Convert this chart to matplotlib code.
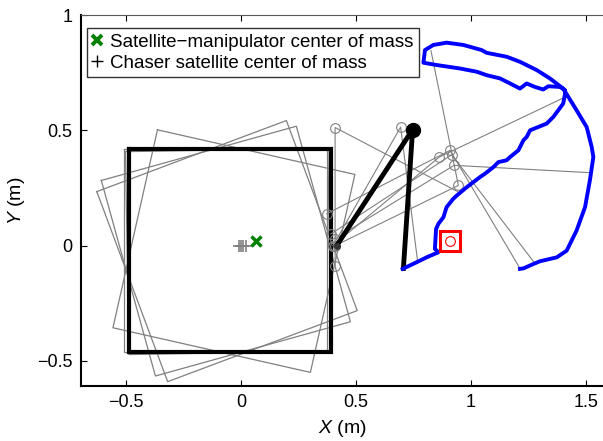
import numpy as np
import matplotlib
matplotlib.use('Agg')
import matplotlib.pyplot as plt
from matplotlib.lines import Line2D

plt.rcParams['font.family'] = ['Liberation Sans', 'DejaVu Sans']
plt.rcParams['mathtext.fontset'] = 'custom'
plt.rcParams['mathtext.it'] = 'Liberation Sans:italic'
plt.rcParams['mathtext.rm'] = 'Liberation Sans'

# satellite body snapshots: centre, rotation (deg), side length
sq_cx = [-0.068, -0.055, -0.061, -0.031, -0.066]
sq_cy = [-0.021, -0.025, -0.024, -0.024, -0.024]
sq_ang = [0.0, 1.0, 20.5, -12.7, 15.5]
sq_side = 0.88
black_sq = (-0.048, -0.022, 0.0, 0.88)

# gray arm snapshots: base joint, elbow joint, end effector
base_x = [0.409, 0.400, 0.400, 0.373, 0.410, 0.390, 0.410]
base_y = [-0.087, 0.000, 0.000, 0.138, 0.030, 0.050, 0.000]
elb_x = [0.409, 0.694, 0.862, 0.909, 0.926, 0.916, 0.945]
elb_y = [0.512, 0.514, 0.384, 0.413, 0.348, 0.394, 0.261]
tip_x = [0.940, 0.767, 1.401, 1.213, 1.520, 1.274, 0.826]
tip_y = [0.235, -0.062, 0.640, -0.099, 0.316, -0.072, 0.845]

# initial (black) arm
arm0_x = [0.416, 0.746, 0.706]
arm0_y = [0.000, 0.503, -0.099]

# end effector path
path_x = [0.703, 0.764, 0.807, 0.858, 0.843, 0.848, 0.858, 0.880, 0.894, 0.923, 0.938,
          0.981, 1.010, 1.039, 1.061, 1.097, 1.119, 1.155, 1.170, 1.206, 1.228, 1.242,
          1.257, 1.329, 1.358, 1.401, 1.409, 1.409, 1.387, 1.336, 1.314, 1.278, 1.242,
          1.213, 1.170, 1.126, 1.068, 1.025, 0.952, 0.851, 0.793, 0.800, 0.836, 0.894,
          0.967, 1.046, 1.068, 1.155, 1.213, 1.286, 1.343, 1.401, 1.459, 1.503, 1.525,
          1.532, 1.517, 1.496, 1.459, 1.416, 1.373, 1.300, 1.271, 1.228, 1.213]
path_y = [-0.101, -0.072, -0.051, -0.029, -0.014, 0.072, 0.094, 0.123, 0.167, 0.203, 0.217,
          0.253, 0.275, 0.297, 0.312, 0.340, 0.362, 0.370, 0.384, 0.413, 0.457, 0.471,
          0.500, 0.529, 0.558, 0.616, 0.659, 0.674, 0.688, 0.691, 0.677, 0.688, 0.703,
          0.681, 0.703, 0.725, 0.739, 0.754, 0.768, 0.783, 0.793, 0.848, 0.870, 0.880,
          0.870, 0.848, 0.836, 0.819, 0.797, 0.761, 0.725, 0.681, 0.587, 0.514, 0.427,
          0.384, 0.283, 0.167, 0.065, -0.022, -0.051, -0.068, -0.080, -0.099, -0.101]

target = (0.907, 0.022)
chaser_x = [-0.010, 0.000, 0.010, 0.020]
chaser_y = [0.0, 0.0, 0.0, 0.0]
sm_com = (0.064, 0.019)

gray = '0.5'


def square(cx, cy, ang, side):
    h = side / 2
    a = np.deg2rad(ang)
    pts = np.array([[-h, h], [h, h], [h, -h], [-h, -h], [-h, h]])
    rot = np.array([[np.cos(a), -np.sin(a)], [np.sin(a), np.cos(a)]])
    p = pts @ rot.T
    return p[:, 0] + cx, p[:, 1] + cy


fig = plt.figure(figsize=(6.03, 4.41), dpi=100)
ax = fig.add_axes([81 / 603, 55 / 441, 522 / 603, 371 / 441])

for cx, cy, a in zip(sq_cx, sq_cy, sq_ang):
    x, y = square(cx, cy, a, sq_side)
    ax.plot(x, y, color=gray, lw=0.9)
x, y = square(*black_sq)
ax.plot(x, y, color='k', lw=3, solid_joinstyle='miter')

for i in range(len(base_x)):
    ax.plot([base_x[i], elb_x[i], tip_x[i]], [base_y[i], elb_y[i], tip_y[i]],
            color=gray, lw=0.8)
    ax.plot([base_x[i], elb_x[i]], [base_y[i], elb_y[i]], ls='none', marker='o',
            ms=7, mfc='none', mec=gray, mew=0.8)

ax.plot(arm0_x, arm0_y, color='k', lw=3.5)
ax.plot(arm0_x[1], arm0_y[1], 'o', color='k', ms=10)
ax.plot(arm0_x[0], arm0_y[0], 'o', color='0.2', ms=4)

ax.plot(path_x, path_y, color='#0000ff', lw=2.8)

ax.plot(target[0], target[1], 's', ms=15, mfc='none', mec='red', mew=2.2)
ax.plot(target[0], target[1], 'o', ms=7, mfc='none', mec='red', mew=0.8)

ax.plot(chaser_x, chaser_y, '+', color=gray, ms=8, mew=1.2)
ax.plot(sm_com[0], sm_com[1], 'x', color='#008000', ms=7, mew=2.5)

ax.set_xlim(-0.696, 1.574)
ax.set_ylim(-0.609, 1.0)
ax.set_xticks([-0.5, 0, 0.5, 1, 1.5])
ax.set_xticklabels(['\u22120.5', '0', '0.5', '1', '1.5'])
ax.set_yticks([-0.5, 0, 0.5, 1])
ax.set_yticklabels(['\u22120.5', '0', '0.5', '1'])
ax.tick_params(direction='in', length=4, width=0.8, labelsize=13, top=True, pad=6)
ax.spines['right'].set_visible(False)
ax.spines['top'].set_linewidth(0.8)
ax.spines['top'].set_color('0.35')
ax.spines['left'].set_linewidth(1.5)
ax.spines['bottom'].set_linewidth(1.5)
ax.set_xlabel(r'$X$ (m)', fontsize=14, labelpad=5)
ax.set_ylabel(r'$Y$ (m)', fontsize=14, labelpad=7)

handles = [Line2D([], [], ls='none', marker='x', color='#008000', ms=6.5, mew=2.8),
           Line2D([], [], ls='none', marker='+', color='k', ms=9, mew=1)]
leg = ax.legend(handles, ['Satellite\u2212manipulator center of mass',
                          'Chaser satellite center of mass'],
                loc='upper left', bbox_to_anchor=(0.011, 0.965), borderaxespad=0,
                fontsize=13.5, frameon=True, fancybox=False, handlelength=0.5,
                handletextpad=0.45, borderpad=0.3, labelspacing=0.2)
leg.get_frame().set_edgecolor('k')
leg.get_frame().set_linewidth(1.0)

fig.savefig('out.png', dpi=100)
